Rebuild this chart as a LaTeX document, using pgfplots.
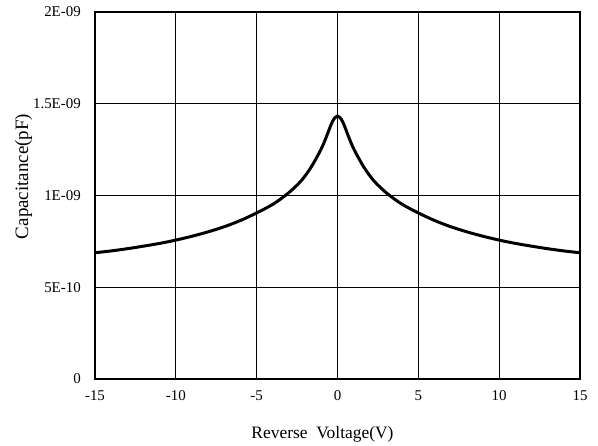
\documentclass[border=0pt]{standalone}
\usepackage{pgfplots}
\pgfplotsset{compat=1.18}
\usepackage{fontspec}
\setmainfont{Liberation Serif}
\begin{document}
\begin{tikzpicture}
\begin{axis}[
  at={(0,0)}, anchor=south west,
  scale only axis, width=485bp, height=367bp,
  xmin=-15, xmax=15, ymin=0, ymax=2,
  xtick={-15,-10,-5,0,5,10,15},
  xticklabels={-15,-10,-5,0,5,10,15},
  ytick={0,0.5,1,1.5,2},
  yticklabels={0,5E-10,1E-09,1.5E-09,2E-09},
  major tick length=0pt,
  grid=major,
  major grid style={black, line width=0.9bp},
  axis line style={black, line width=1.3bp},
  tick label style={font=\fontsize{15}{17}\selectfont, inner sep=0pt},
  xticklabel style={anchor=base, yshift=-21.5bp},
  yticklabel style={anchor=east, xshift=-14bp},
  xlabel={Reverse\ \ Voltage(V)},
  xlabel style={at={(axis description cs:0.469,-0.1616)}, anchor=base, inner sep=0pt, font=\fontsize{17.5}{20}\selectfont},
  ylabel={Capacitance(pF)},
  ylabel style={at={(axis description cs:-0.1381,0.5518)}, anchor=base, rotate=0, inner sep=0pt, font=\fontsize{19}{22}\selectfont},
]
\addplot[black, line width=3bp, smooth, tension=0.55] coordinates {
(-15,0.688) (-14,0.698) (-13,0.710) (-12,0.724) (-11,0.739) (-10,0.757)
(-9,0.778) (-8,0.802) (-7,0.830) (-6,0.864) (-5,0.905) (-4,0.952)
(-3.2,1.002) (-2.7,1.040) (-2.2,1.085) (-1.7,1.145) (-1.3,1.205)
(-1.0,1.255) (-0.8,1.295) (-0.6,1.340) (-0.45,1.375) (-0.3,1.405) (-0.15,1.425)
(0,1.433)
(0.15,1.425) (0.3,1.405) (0.45,1.375) (0.6,1.340) (0.8,1.295) (1.0,1.255)
(1.3,1.205) (1.7,1.145) (2.2,1.085) (2.7,1.040) (3.2,1.002)
(4,0.952) (5,0.905) (6,0.864) (7,0.830) (8,0.802) (9,0.778)
(10,0.757) (11,0.739) (12,0.724) (13,0.710) (14,0.698) (15,0.688)
};
\end{axis}
\pgfresetboundingbox
\path (-95bp,-67bp) rectangle (503bp,379bp);
\end{tikzpicture}
\end{document}
